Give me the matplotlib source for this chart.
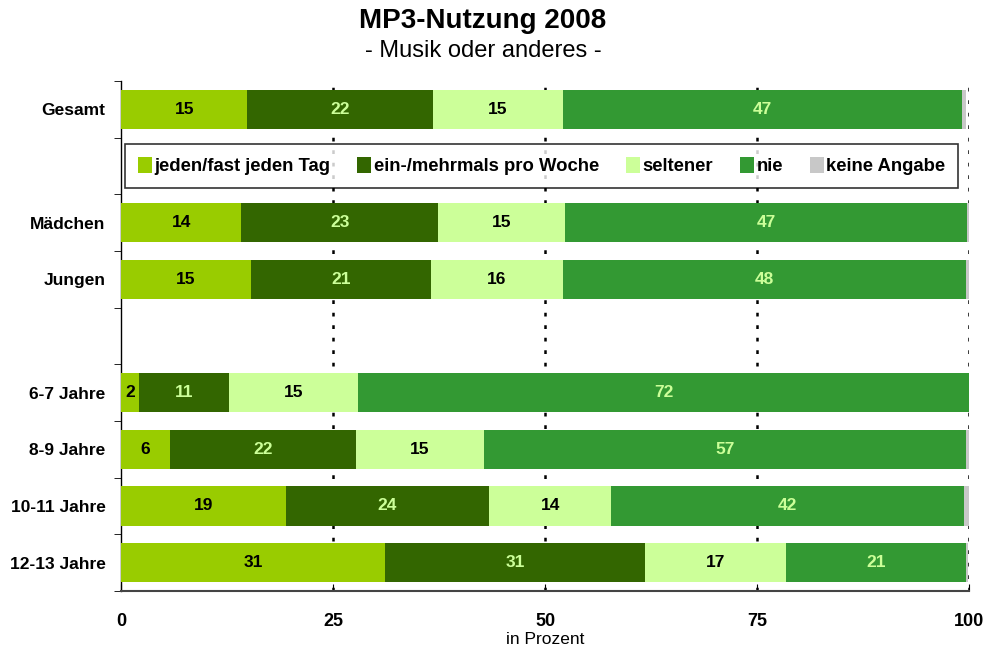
import numpy as np
import matplotlib.pyplot as plt

plt.rcParams["font.family"] = ["Liberation Sans", "DejaVu Sans"]

# rows of the chart, top to bottom ("" = empty slot)
ROWS = ["Gesamt", "", "Mädchen", "Jungen", "", "6-7 Jahre", "8-9 Jahre", "10-11 Jahre", "12-13 Jahre"]

SERIES = ["jeden/fast jeden Tag", "ein-/mehrmals pro Woche", "seltener", "nie", "keine Angabe"]
COLORS = ["#99CC00", "#336600", "#CCFF99", "#339933", "#C8C8C8"]
LABEL_COLORS = ["black", "#CCFF99", "black", "#CCFF99", None]

taeglich = [14.9, np.nan, 14.2, 15.3, np.nan, 2.1, 5.8, 19.4, 31.1]
woechentlich = [21.9, np.nan, 23.2, 21.2, np.nan, 10.6, 21.9, 24.0, 30.7]
seltener = [15.3, np.nan, 15.0, 15.6, np.nan, 15.3, 15.1, 14.4, 16.6]
nie = [47.1, np.nan, 47.4, 47.6, np.nan, 72.0, 56.9, 41.6, 21.2]
keine_angabe = [0.5, np.nan, 0.3, 0.3, np.nan, 0.0, 0.3, 0.8, 0.3]

data = [taeglich, woechentlich, seltener, nie, keine_angabe]

fig = plt.figure(figsize=(9.86, 6.5), dpi=100)
ax = fig.add_axes([121 / 986, 1 - 591 / 650, 848 / 986, 510 / 650])

y = np.arange(len(ROWS))
left = np.zeros(len(ROWS))
handles = []
for name, vals, col, lcol in zip(SERIES, data, COLORS, LABEL_COLORS):
    vals = np.nan_to_num(np.array(vals, dtype=float))
    bars = ax.barh(y, vals, left=left, height=0.69, color=col, label=name, zorder=3)
    handles.append(bars)
    if lcol is not None:
        for yi, l, v in zip(y, left, vals):
            if v > 0:
                ax.text(l + v / 2, yi, f"{round(v):d}", ha="center", va="center",
                        fontsize=12.5, fontweight="bold", color=lcol, zorder=4)
    left += vals

ax.set_xlim(0, 100)
ax.set_ylim(len(ROWS) - 0.5, -0.5)
ax.set_xticks([0, 25, 50, 75, 100])
ax.set_xticklabels(["0", "25", "50", "75", "100"], fontsize=13, fontweight="bold")
ax.tick_params(axis="x", direction="in", length=5, pad=16)
ax.set_yticks(y)
ax.set_yticklabels(ROWS, fontsize=12.5, fontweight="bold")
ax.set_yticks(np.arange(len(ROWS) + 1) - 0.5, minor=True)
ax.tick_params(axis="y", which="major", length=0, pad=11)
ax.tick_params(axis="y", which="minor", direction="out", length=5)

for xv in [25, 50, 75, 100]:
    ax.axvline(xv, color="black", linestyle=(0, (1.5, 3.5)), linewidth=1.8, zorder=1)

ax.spines["top"].set_visible(False)
ax.spines["right"].set_visible(False)
ax.spines["left"].set_linewidth(1.0)
ax.spines["bottom"].set_color("#444444")
ax.spines["bottom"].set_linewidth(1.5)

ax.set_xlabel("in Prozent", fontsize=12.5, labelpad=1)

leg = ax.legend(handles=handles, ncol=5, loc="center",
                bbox_to_anchor=(49.6, 1), bbox_transform=ax.transData,
                prop={"weight": "bold", "size": 13.3}, frameon=True,
                fancybox=False, edgecolor="black", handlelength=0.75, handleheight=1.0,
                handletextpad=0.15, columnspacing=1.45, borderpad=0.7)
leg.get_frame().set_linewidth(1.2)
leg.set_zorder(5)

fig.text(0.4899, 1 - 21 / 650, "MP3-Nutzung 2008", ha="center", va="center",
         fontsize=20, fontweight="bold")
fig.text(0.4899, 1 - 51 / 650, "- Musik oder anderes -", ha="center", va="center",
         fontsize=17)

fig.savefig("out.png", dpi=100)
